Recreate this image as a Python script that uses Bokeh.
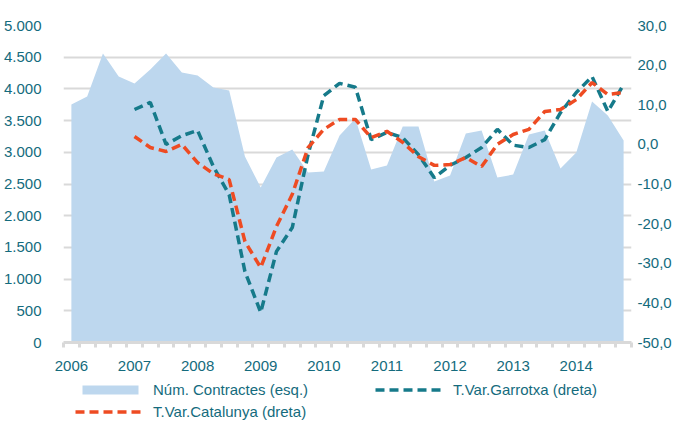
from bokeh.plotting import figure
from bokeh.layouts import column
from bokeh.models import Range1d, LinearAxis, FixedTicker, Legend, LegendItem
from bokeh.embed import file_html
from bokeh.resources import INLINE

# ---- data (quarterly, 2006Q1 .. 2014Q4) ----
year_labels = ["2006", "2007", "2008", "2009", "2010", "2011", "2012", "2013", "2014"]
contractes = [3754, 3880, 4558, 4195, 4085, 4305, 4558, 4258, 4211, 4022, 3974, 2933,
              2444, 2918, 3044, 2681, 2697, 3264, 3533, 2728, 2791, 3406, 3406, 2539,
              2634, 3296, 3343, 2602, 2649, 3280, 3343, 2744, 2996, 3801, 3580, 3186]
# year-on-year variation, available from 2007Q1
garrotxa = [8.8, 10.6, 0.0, 2.2, 3.5, -5.6, -12.7, -32.1, -42.4, -27.0, -21.0, -2.6,
            12.3, 15.4, 14.4, 1.2, 3.0, 1.7, -2.6, -8.4, -5.3, -3.3, -0.8, 3.8,
            -0.2, -0.8, 1.2, 8.0, 13.1, 17.1, 8.3, 15.1]
catalunya = [2.0, -0.8, -1.8, 0.0, -4.6, -7.4, -8.9, -24.5, -31.1, -20.7, -12.6, -0.8,
             3.8, 6.3, 6.3, 1.7, 3.3, 0.5, -3.1, -5.3, -5.1, -3.3, -5.6, 0.0,
             2.5, 3.8, 8.3, 8.8, 11.3, 15.6, 12.6, 13.1]
left_ticks = [0, 500, 1000, 1500, 2000, 2500, 3000, 3500, 4000, 4500, 5000]
right_ticks = [-50, -40, -30, -20, -10, 0, 10, 20, 30]
legend_labels = ["Núm. Contractes (esq.)", "T.Var.Garrotxa (dreta)", "T.Var.Catalunya (dreta)"]

TEXT = "#146B7D"
TEAL = "#167A8A"
ORANGE = "#EE4B22"
AREA = "#BDD7EE"
GRID = "#D9D9D9"
FONT = "Liberation Sans"
NAN = float("nan")

n = len(contractes)
xq = list(range(n))
offset = n - len(garrotxa)
xl = list(range(offset, n))

W = 675
H_MAIN = 376
H_LEG = 44

p = figure(width=W, height=H_MAIN, output_backend="svg", toolbar_location=None,
           x_range=Range1d(-0.5, n - 0.5), y_range=Range1d(0, 5000),
           min_border_left=55, min_border_right=44, min_border_top=25,
           min_border_bottom=34)
p.outline_line_color = None
p.background_fill_color = "white"
p.border_fill_color = "white"
p.extra_y_ranges = {"right": Range1d(-50, 30)}

p.varea(x=xq, y1=[0] * n, y2=contractes, fill_color=AREA)
p.line(x=xl, y=garrotxa, y_range_name="right", line_color=TEAL, line_width=3.5,
       line_dash="9 5", line_cap="butt")
p.line(x=xl, y=catalunya, y_range_name="right", line_color=ORANGE, line_width=3.5,
       line_dash="9 5", line_cap="butt")

# grid
p.xgrid.grid_line_color = None
p.ygrid.grid_line_color = GRID
p.ygrid.grid_line_width = 2
p.ygrid.ticker = FixedTicker(ticks=left_ticks)

# x axis
xa = p.xaxis[0]
major_x = [i * 4 for i in range(len(year_labels))]
xa.ticker = FixedTicker(ticks=major_x, minor_ticks=[k - 0.5 for k in range(n + 1)])
xa.major_label_overrides = {m: lab for m, lab in zip(major_x, year_labels)}
xa.major_tick_line_color = None
xa.major_tick_out = 0
xa.major_tick_in = 0
xa.minor_tick_out = 5
xa.minor_tick_in = 0
xa.minor_tick_line_color = GRID
xa.minor_tick_line_width = 3
xa.axis_line_color = GRID
xa.axis_line_width = 3
xa.major_label_standoff = 13
xa.major_label_text_font = FONT
xa.major_label_text_font_size = "15px"
xa.major_label_text_color = TEXT


def style_y(ax, standoff):
    ax.axis_line_color = None
    ax.major_tick_line_color = None
    ax.minor_tick_line_color = None
    ax.major_tick_out = 0
    ax.major_tick_in = 0
    ax.minor_tick_out = 0
    ax.minor_tick_in = 0
    ax.major_label_standoff = standoff
    ax.major_label_text_font = FONT
    ax.major_label_text_font_size = "15px"
    ax.major_label_text_color = TEXT


# left axis
ya = p.yaxis[0]
ya.ticker = FixedTicker(ticks=left_ticks)
ya.major_label_overrides = {v: f"{v:,}".replace(",", ".") for v in left_ticks}
style_y(ya, 22)

# right axis
ra = LinearAxis(y_range_name="right", ticker=FixedTicker(ticks=right_ticks))
ra.major_label_overrides = {v: f"{v:.1f}".replace(".", ",") for v in right_ticks}
style_y(ra, 6)
p.add_layout(ra, "right")

# ---- legend strip (swatches only, no data) ----
lf = figure(width=W, height=H_LEG, output_backend="svg", toolbar_location=None,
            x_range=Range1d(0, 1), y_range=Range1d(0, 1),
            x_axis_type=None, y_axis_type=None,
            min_border_left=0, min_border_right=0, min_border_top=0, min_border_bottom=0)
lf.outline_line_color = None
lf.xgrid.visible = False
lf.ygrid.visible = False
la = lf.varea(x=[NAN], y1=[NAN], y2=[NAN], fill_color=AREA)
lgl = lf.line(x=[NAN], y=[NAN], line_color=TEAL, line_width=3.5, line_dash="9 5", line_cap="butt")
lcl = lf.line(x=[NAN], y=[NAN], line_color=ORANGE, line_width=3.5, line_dash="9 5", line_cap="butt")


def make_legend(items, loc):
    lg = Legend(items=items, location=loc, orientation="vertical")
    lg.padding = 0
    lg.margin = 0
    lg.spacing = 5
    lg.glyph_width = 70
    lg.glyph_height = 11
    lg.label_height = 17
    lg.label_standoff = 8
    lg.label_text_font = FONT
    lg.label_text_font_size = "15px"
    lg.label_text_color = TEXT
    lg.background_fill_alpha = 0
    lg.border_line_color = None
    return lg


leg1 = make_legend([LegendItem(label=legend_labels[0], renderers=[la]),
                    LegendItem(label=legend_labels[2], renderers=[lcl])], (12, 0))
leg2 = make_legend([LegendItem(label=legend_labels[1], renderers=[lgl])], (312, 22))
lf.add_layout(leg1, "center")
lf.add_layout(leg2, "center")

layout = column(p, lf, spacing=0)
open("out.html", "w").write(file_html(layout, INLINE))
